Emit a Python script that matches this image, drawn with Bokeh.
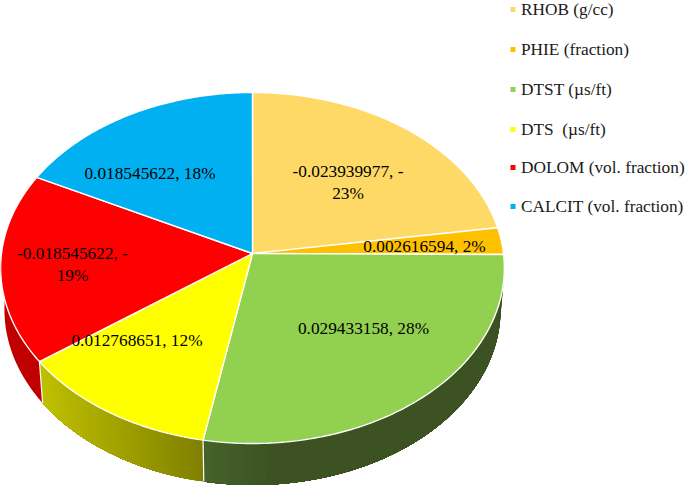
import math
from bokeh.plotting import figure
from bokeh.embed import file_html
from bokeh.resources import INLINE
from bokeh.core.properties import value

# ---- data ----
series_names = ["RHOB (g/cc)", "PHIE (fraction)", "DTST (µs/ft)", "DTS \u00a0(µs/ft)",
                "DOLOM (vol. fraction)", "CALCIT (vol. fraction)"]
series_values = [-0.023939977, 0.002616594, 0.029433158, 0.012768651, -0.018545622, 0.018545622]
slice_labels = ["-0.023939977, -\n23%", "0.002616594, 2%", "0.029433158, 28%",
                "0.012768651, 12%", "-0.018545622, -\n19%", "0.018545622, 18%"]
slice_colors = ["#FFD966", "#FFC000", "#92D050", "#FFFF00", "#FF0000", "#00B0F0"]

# ---- layout / style ----
W, H = 685, 486
CX, CY = 252.0, 253.0     # apex of the pie in the picture
BX, BY, K = 251.0, 174.3, 0.0826   # perspective tilt
DEPTH, SHRINK = 41.5, 0.985
label_pos = [(347.5, 182), (424, 246), (363, 328), (136.5, 340), (72, 264), (149.5, 173)]
legend_x, legend_text_x = 512.5, 520.5
legend_y = [9, 49, 89, 129, 167, 206]
# wall shading: colour at left x, colour at right x
wall_grad = {2: ("#46622c", "#3c5222", 204, 270, 60),
             3: ("#bfbf00", "#7f7f00", 42, 204, 80),
             4: ("#c00000", "#c00000", 0, 42, 1)}
FONT = "Liberation Serif"

def top(theta):
    u, v = math.sin(theta), -math.cos(theta)
    d = 1 - K * v
    return CX + BX * u / d, CY + BY * v / d

def low(theta):
    x, y = top(theta)
    return CX + (x - CX) * SHRINK, y + DEPTH

def arc(f, a, b, n):
    return [f(a + (b - a) * i / n) for i in range(n + 1)]

def mix(c1, c2, t):
    a = [int(c1[i:i + 2], 16) for i in (1, 3, 5)]
    b = [int(c2[i:i + 2], 16) for i in (1, 3, 5)]
    return "#%02x%02x%02x" % tuple(round(p + (q - p) * t) for p, q in zip(a, b))

total = sum(abs(v) for v in series_values)
edges = [0.0]
for v in series_values:
    edges.append(edges[-1] + abs(v) / total * 2 * math.pi)

p = figure(width=W, height=H, x_range=(0, W), y_range=(H, 0), output_backend="svg",
           toolbar_location=None, min_border=0, outline_line_color=None,
           background_fill_color="white", border_fill_color="white")
p.axis.visible = False
p.grid.visible = False
p.styles = {"position": "absolute", "left": "0px", "top": "0px"}

# side wall, only the front half of the rim; each strip reaches to the slice's
# far end and the next one paints over it, so that no seams show
for i, (c1, c2, x0, x1, n) in wall_grad.items():
    a, b = max(edges[i], math.pi / 2), min(edges[i + 1], 3 * math.pi / 2)
    for j in range(n):
        t0 = a + (b - a) * j / n
        x = top(t0 + (b - a) / n / 2)[0]
        t = min(max((x - x0) / (x1 - x0), 0), 1)
        q = arc(top, t0, b, 60) + arc(low, b, t0, 60)
        p.patch([c[0] for c in q], [c[1] for c in q], fill_color=mix(c1, c2, t), line_color=None)

for i in (3, 4):
    a, b = top(edges[i]), low(edges[i])
    p.line([a[0], b[0]], [a[1], b[1]], line_color="white", line_width=1.2)

# top face
for i, c in enumerate(slice_colors):
    q = [(CX, CY)] + arc(top, edges[i], edges[i + 1], 120)
    p.patch([c_[0] for c_ in q], [c_[1] for c_ in q], fill_color=c,
            line_color="white", line_width=1.4)

# slice labels
p.text([q[0] for q in label_pos], [q[1] for q in label_pos], text=slice_labels,
       text_font=value(FONT), text_font_size="17.3px", text_color="#000000",
       text_align="center", text_baseline="middle", text_line_height=1.15)

# legend
p.scatter([legend_x] * 6, legend_y, marker="square", size=5, fill_color=slice_colors, line_color=None)
p.text([legend_text_x] * 6, legend_y, text=series_names, text_font=value(FONT),
       text_font_size="17.3px", text_color="#1a1a1a", text_align="left", text_baseline="middle")

open("out.html", "w").write(file_html(p, INLINE))
